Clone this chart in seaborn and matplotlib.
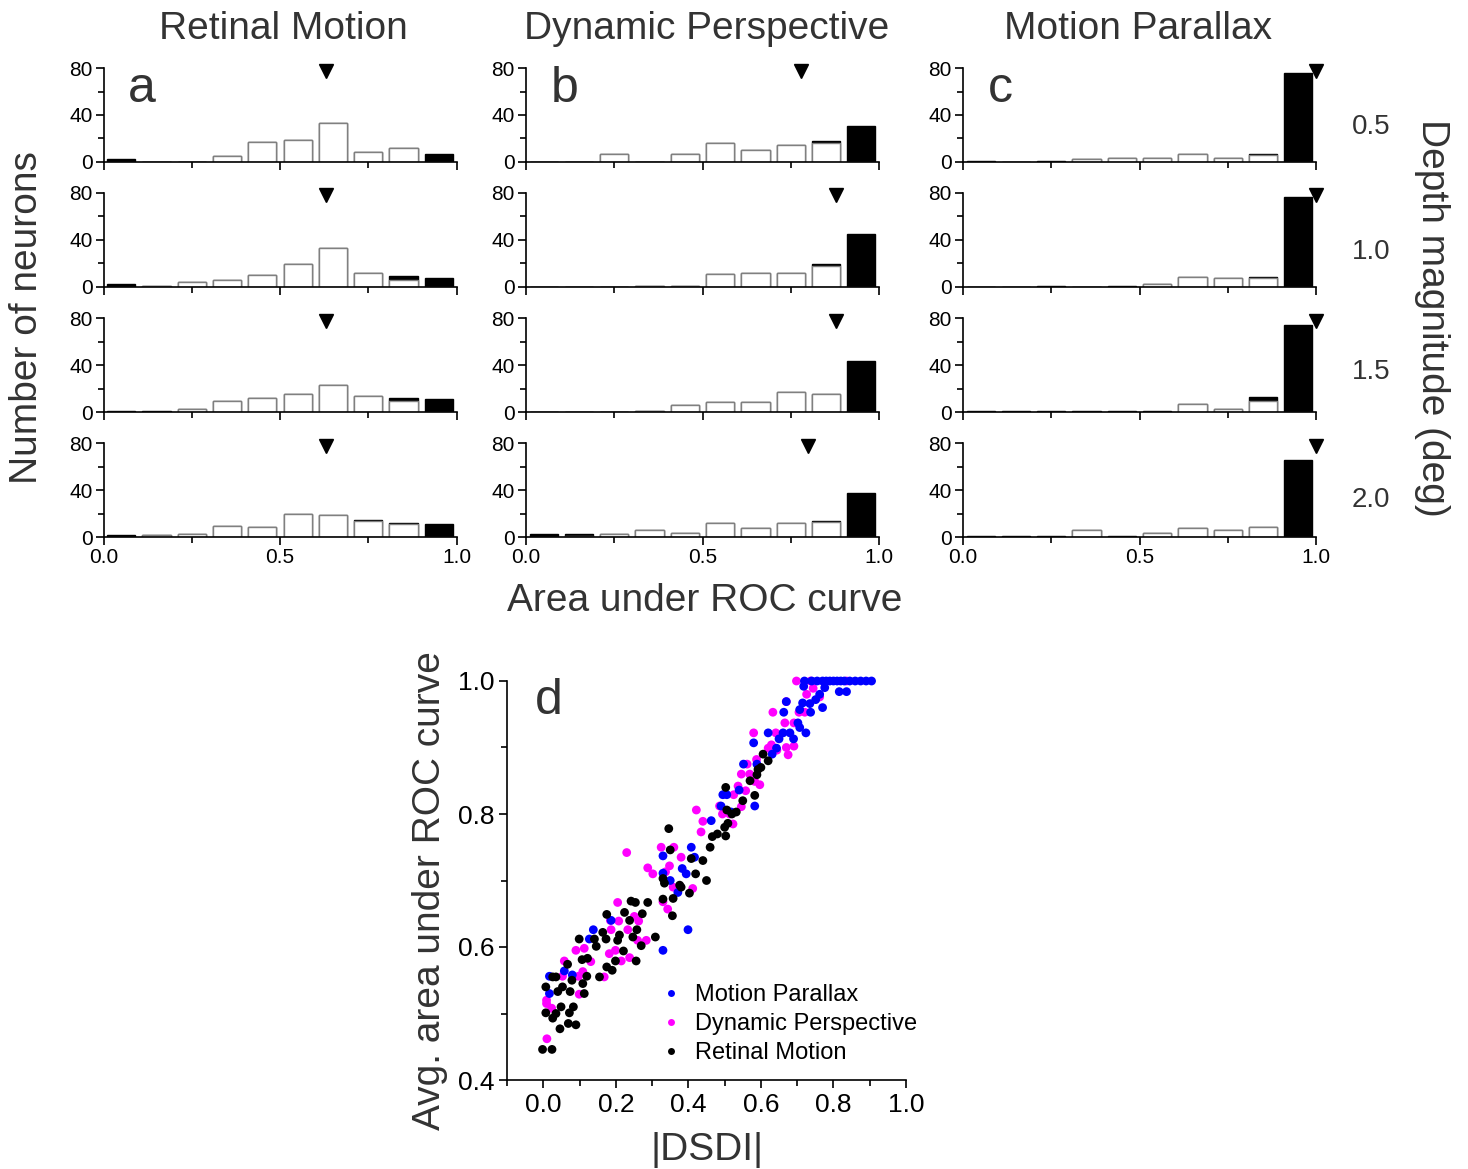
import matplotlib
matplotlib.use("Agg")
import matplotlib.pyplot as plt
from matplotlib.lines import Line2D
from matplotlib.ticker import MultipleLocator, FormatStrFormatter
import numpy as np
import pandas as pd
import seaborn as sns

# ---- histogram data (counts per 0.1 bin of ROC area), rows = depth 0.5, 1.0, 1.5, 2.0
cues = ["Retinal Motion", "Dynamic Perspective", "Motion Parallax"]
depths = ["0.5", "1.0", "1.5", "2.0"]
panel_letters = ["a", "b", "c"]

rm_white = [
    [0, 0, 0, 5, 17, 19, 33, 8, 12, 0],
    [0, 1, 4, 6, 10, 19, 33, 12, 6, 0],
    [0, 0, 3, 10, 12, 16, 23, 14, 10, 0],
    [0, 2, 3, 10, 9, 20, 19, 14, 11, 0],
]
rm_black = [
    [2, 0, 0, 0, 0, 0, 0, 0, 0, 7],
    [2, 0, 0, 0, 0, 0, 0, 0, 3, 7],
    [1, 1, 0, 0, 0, 0, 0, 0, 2, 11],
    [2, 0, 0, 0, 0, 0, 0, 1, 1, 11],
]
dp_white = [
    [0, 0, 7, 0, 7, 16, 10, 14, 16, 0],
    [0, 0, 0, 1, 1, 11, 12, 12, 18, 0],
    [0, 0, 0, 1, 6, 9, 9, 17, 16, 0],
    [0, 1, 3, 6, 4, 12, 8, 12, 13, 0],
]
dp_black = [
    [0, 0, 0, 0, 0, 0, 0, 0, 2, 31],
    [0, 0, 0, 0, 0, 0, 0, 0, 1, 45],
    [0, 0, 0, 0, 0, 0, 0, 0, 0, 44],
    [3, 2, 0, 0, 0, 0, 0, 0, 1, 38],
]
mp_white = [
    [0, 0, 0, 2, 3, 3, 7, 3, 6, 0],
    [0, 0, 0, 0, 0, 2, 8, 7, 7, 0],
    [0, 0, 0, 0, 0, 0, 7, 3, 10, 0],
    [0, 0, 0, 6, 0, 4, 8, 6, 9, 0],
]
mp_black = [
    [1, 0, 1, 0, 0, 0, 0, 0, 1, 76],
    [0, 0, 1, 0, 1, 0, 0, 0, 1, 76],
    [1, 1, 1, 1, 1, 1, 0, 0, 3, 74],
    [1, 1, 1, 0, 1, 0, 0, 0, 0, 66],
]
# median ROC area (triangle markers)
rm_median = [0.63, 0.63, 0.63, 0.63]
dp_median = [0.78, 0.877, 0.877, 0.80]
mp_median = [1.0, 1.0, 1.0, 1.0]

# ---- scatter data: |DSDI| vs average ROC area
rm_dsdi = [-0.002, 0.024, 0.007, 0.026, 0.046, 0.069, 0.090, 0.049, 0.072, 0.083,
           0.035, 0.007, 0.040, 0.053, 0.074, 0.113, 0.026, 0.035, 0.079, 0.109,
           0.120, 0.107, 0.122, 0.099, 0.141, 0.146, 0.155, 0.175, 0.190, 0.164,
           0.175, 0.173, 0.199, 0.210, 0.224, 0.238, 0.221, 0.205, 0.242, 0.254,
           0.247, 0.258, 0.273, 0.270, 0.288, 0.256, 0.309, 0.330, 0.334, 0.330,
           0.356, 0.358, 0.376, 0.403, 0.350, 0.408, 0.380, 0.067, 0.346, 0.503,
           0.606, 0.592, 0.589, 0.583, 0.506, 0.532, 0.509, 0.466, 0.503, 0.440,
           0.460, 0.480, 0.450, 0.420, 0.500, 0.520, 0.550, 0.570, 0.600, 0.620]
rm_auc = [0.446, 0.446, 0.501, 0.493, 0.477, 0.485, 0.483, 0.510, 0.501, 0.510,
          0.500, 0.540, 0.533, 0.540, 0.533, 0.530, 0.555, 0.555, 0.550, 0.545,
          0.556, 0.581, 0.583, 0.612, 0.612, 0.601, 0.555, 0.570, 0.565, 0.622,
          0.649, 0.612, 0.579, 0.618, 0.652, 0.640, 0.594, 0.610, 0.669, 0.667,
          0.615, 0.626, 0.650, 0.602, 0.667, 0.579, 0.615, 0.672, 0.696, 0.703,
          0.647, 0.673, 0.693, 0.681, 0.746, 0.733, 0.690, 0.574, 0.778, 0.840,
          0.890, 0.867, 0.859, 0.828, 0.806, 0.803, 0.786, 0.766, 0.767, 0.730,
          0.750, 0.770, 0.700, 0.710, 0.780, 0.800, 0.820, 0.850, 0.870, 0.880]

dp_dsdi = [0.010, 0.009, 0.009, 0.023, 0.099, 0.097, 0.053, 0.058, 0.090, 0.113,
           0.109, 0.131, 0.168, 0.185, 0.187, 0.182, 0.199, 0.205, 0.208, 0.215,
           0.233, 0.238, 0.263, 0.251, 0.260, 0.284, 0.230, 0.288, 0.302, 0.325,
           0.360, 0.380, 0.348, 0.358, 0.330, 0.343, 0.412, 0.337, 0.698, 0.737,
           0.836, 0.744, 0.726, 0.762, 0.633, 0.705, 0.721, 0.670, 0.666, 0.691,
           0.580, 0.641, 0.691, 0.670, 0.629, 0.620, 0.675, 0.644, 0.588, 0.562,
           0.546, 0.569, 0.583, 0.597, 0.537, 0.558, 0.525, 0.422, 0.440, 0.435,
           0.486, 0.514, 0.546, 0.523, 0.494]
dp_auc = [0.462, 0.520, 0.515, 0.508, 0.529, 0.556, 0.556, 0.579, 0.595, 0.598,
          0.563, 0.578, 0.555, 0.640, 0.626, 0.590, 0.595, 0.667, 0.639, 0.579,
          0.626, 0.584, 0.639, 0.646, 0.610, 0.610, 0.742, 0.719, 0.710, 0.750,
          0.750, 0.735, 0.722, 0.690, 0.668, 0.657, 0.688, 0.713, 1.000, 1.000,
          1.000, 0.989, 0.980, 0.976, 0.953, 0.953, 0.953, 0.969, 0.937, 0.937,
          0.922, 0.922, 0.902, 0.900, 0.904, 0.899, 0.889, 0.896, 0.882, 0.875,
          0.860, 0.860, 0.849, 0.844, 0.842, 0.835, 0.829, 0.806, 0.789, 0.773,
          0.812, 0.800, 0.811, 0.785, 0.800]

mp_dsdi = [0.720, 0.740, 0.755, 0.770, 0.780, 0.790, 0.800, 0.810, 0.820, 0.830,
           0.845, 0.860, 0.875, 0.890, 0.905, 0.718, 0.776, 0.816, 0.836, 0.762,
           0.751, 0.735, 0.715, 0.670, 0.707, 0.737, 0.770, 0.663, 0.620, 0.661,
           0.702, 0.707, 0.724, 0.680, 0.650, 0.580, 0.643, 0.631, 0.690, 0.589,
           0.552, 0.495, 0.506, 0.583, 0.518, 0.463, 0.490, 0.540, 0.017, 0.017,
           0.058, 0.080, 0.127, 0.138, 0.187, 0.330, 0.330, 0.330, 0.371, 0.383,
           0.394, 0.399, 0.408, 0.417, 0.350]
mp_auc = [1.000, 1.000, 1.000, 1.000, 1.000, 1.000, 1.000, 1.000, 1.000, 1.000,
          1.000, 1.000, 1.000, 1.000, 1.000, 0.992, 0.990, 0.984, 0.984, 0.980,
          0.972, 0.966, 0.967, 0.969, 0.957, 0.953, 0.960, 0.953, 0.922, 0.922,
          0.937, 0.930, 0.922, 0.922, 0.913, 0.907, 0.899, 0.890, 0.913, 0.875,
          0.875, 0.829, 0.829, 0.812, 0.803, 0.790, 0.812, 0.836, 0.556, 0.530,
          0.564, 0.558, 0.612, 0.626, 0.640, 0.595, 0.737, 0.711, 0.682, 0.718,
          0.710, 0.626, 0.750, 0.735, 0.700]

cue_colours = {"Motion Parallax": "#0000FF",
               "Dynamic Perspective": "#FF00FF",
               "Retinal Motion": "#000000"}

W, H = 1468, 1169
TXT = "#333333"


def rect(left, top, right, bottom):
    """pixel box -> figure fraction rect"""
    return [left / W, 1 - bottom / H, (right - left) / W, (bottom - top) / H]


def fx(px):
    return px / W


def fy(py):
    return 1 - py / H


def plot_hist(ax, white, black, median, show_x):
    edges = np.linspace(0, 1, 11)
    hist_df = pd.DataFrame({
        "centre": (edges[:-1] + edges[1:]) / 2,
        "total": np.array(white) + np.array(black),
        "white": white,
    })
    # significant neurons (black) stacked above non-significant ones (white)
    sns.histplot(data=hist_df, x="centre", weights="total", bins=10,
                 binrange=(0, 1), shrink=0.8, color="black", edgecolor="black",
                 linewidth=1, alpha=1, ax=ax)
    sns.histplot(data=hist_df, x="centre", weights="white", bins=10,
                 binrange=(0, 1), shrink=0.8, color="white", edgecolor="#808080",
                 linewidth=1, alpha=1, ax=ax)
    ax.plot([median], [78], marker="v", color="black", markersize=10,
            linestyle="none", clip_on=False)
    ax.set_xlim(0, 1)
    ax.set_ylim(0, 80)
    ax.set(xlabel=None, ylabel=None)
    ax.set_yticks([0, 40, 80])
    ax.yaxis.set_minor_locator(MultipleLocator(20))
    ax.set_xticks([0, 0.5, 1.0])
    ax.xaxis.set_minor_locator(MultipleLocator(0.25))
    ax.xaxis.set_major_formatter(FormatStrFormatter("%.1f"))
    if not show_x:
        ax.tick_params(axis="x", labelbottom=False)
    ax.tick_params(which="major", length=6, width=1.2, labelsize=15, pad=2)
    ax.tick_params(which="minor", length=4, width=1.2)
    sns.despine(ax=ax)
    for sp in ["left", "bottom"]:
        ax.spines[sp].set_linewidth(1.2)


sns.set_style("ticks")
plt.rcParams["font.family"] = ["Liberation Sans", "DejaVu Sans"]
plt.rcParams["xtick.color"] = "black"
plt.rcParams["ytick.color"] = "black"
plt.rcParams["axes.edgecolor"] = "black"
plt.rcParams["text.color"] = "black"

fig = plt.figure(figsize=(W / 100, H / 100), dpi=100)

col_left = [103.5, 526, 963]
row_top = [68.3, 192.7, 318.3, 443.3]
row_bot = [161.7, 286.7, 412.3, 537.3]
whites = [rm_white, dp_white, mp_white]
blacks = [rm_black, dp_black, mp_black]
medians = [rm_median, dp_median, mp_median]

for c in range(3):
    for r in range(4):
        ax = fig.add_axes(rect(col_left[c], row_top[r], col_left[c] + 353, row_bot[r]))
        plot_hist(ax, whites[c][r], blacks[c][r], medians[c][r], show_x=(r == 3))
        if r == 0:
            ax.text(0.07, 0.78, panel_letters[c], transform=ax.transAxes,
                    fontsize=36, color=TXT, va="center", ha="left")

title_x = [283, 707, 1138]
for c in range(3):
    fig.text(fx(title_x[c]), fy(29), cues[c], fontsize=28, color=TXT,
             ha="center", va="center")

depth_y = [127, 252, 372, 500]
for r in range(4):
    fig.text(fx(1371), fy(depth_y[r]), depths[r], fontsize=20, color=TXT,
             ha="center", va="center")

fig.text(fx(27), fy(318), "Number of neurons", fontsize=28, color=TXT,
         rotation=90, ha="center", va="center")
fig.text(fx(1432), fy(318), "Depth magnitude (deg)", fontsize=28, color=TXT,
         rotation=270, ha="center", va="center")
fig.text(fx(705), fy(601), "Area under ROC curve", fontsize=28, color=TXT,
         ha="center", va="center")

# ---- scatter panel d
scatter_df = pd.concat([
    pd.DataFrame({"dsdi": dp_dsdi, "auc": dp_auc, "cue": "Dynamic Perspective"}),
    pd.DataFrame({"dsdi": mp_dsdi, "auc": mp_auc, "cue": "Motion Parallax"}),
    pd.DataFrame({"dsdi": rm_dsdi, "auc": rm_auc, "cue": "Retinal Motion"}),
], ignore_index=True)

axd = fig.add_axes(rect(507, 681, 906, 1080))
sns.scatterplot(data=scatter_df, x="dsdi", y="auc", hue="cue", palette=cue_colours,
                s=40, edgecolor="none", linewidth=0, clip_on=False, legend=False,
                ax=axd)
axd.set_xlim(-0.1, 1.0)
axd.set_ylim(0.4, 1.0)
axd.set_xticks([0.0, 0.2, 0.4, 0.6, 0.8, 1.0])
axd.xaxis.set_minor_locator(MultipleLocator(0.1))
axd.set_yticks([0.4, 0.6, 0.8, 1.0])
axd.yaxis.set_minor_locator(MultipleLocator(0.1))
axd.xaxis.set_major_formatter(FormatStrFormatter("%.1f"))
axd.yaxis.set_major_formatter(FormatStrFormatter("%.1f"))
axd.tick_params(which="major", length=6, width=1.2, labelsize=19, pad=3)
axd.tick_params(which="minor", length=4, width=1.2)
sns.despine(ax=axd)
for sp in ["left", "bottom"]:
    axd.spines[sp].set_linewidth(1.2)
axd.set_xlabel("|DSDI|", fontsize=28, color=TXT)
axd.set_ylabel("Avg. area under ROC curve", fontsize=28, color=TXT)
axd.xaxis.set_label_coords((707 - 507) / 399, -(1150 - 1080) / 399)
axd.yaxis.set_label_coords(-(507 - 430) / 399, (1080 - 891) / 399)
axd.xaxis.label.set_va("center")
axd.yaxis.label.set_va("center")
axd.text(0.07, 0.95, "d", transform=axd.transAxes, fontsize=36, color=TXT,
         va="center", ha="left")

legend_order = ["Motion Parallax", "Dynamic Perspective", "Retinal Motion"]
handles = [Line2D([], [], marker="o", linestyle="none", markersize=5,
                  markerfacecolor=cue_colours[k], markeredgecolor="none")
           for k in legend_order]
axd.legend(handles, legend_order, frameon=False, fontsize=17, loc="upper left",
           bbox_to_anchor=(fx(645), fy(972)), bbox_transform=fig.transFigure,
           borderpad=0, handletextpad=0.4, labelspacing=0.3, handlelength=1.2)

fig.savefig("out.png", dpi=100)
